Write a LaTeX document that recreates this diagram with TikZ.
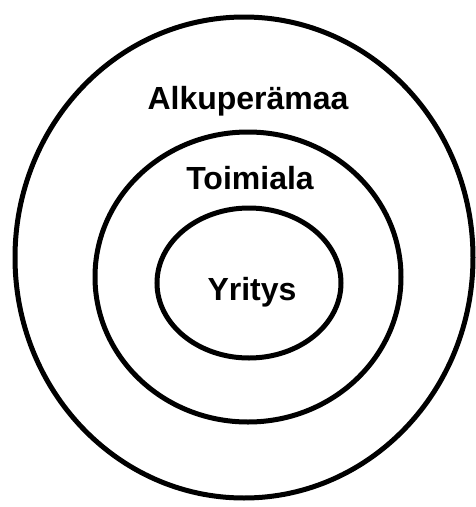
\documentclass[tikz,border=0pt]{standalone}
\usepackage{fontspec}
\setmainfont{Liberation Sans}
\begin{document}
\begin{tikzpicture}[x=1pt,y=-1pt,
  ring/.style={draw=black,line width=5pt},
  lbl/.style={font=\fontsize{32}{36}\selectfont\bfseries,inner sep=0pt}]
\useasboundingbox (0,0) rectangle (476,507);
\draw[ring] (244,257.5) ellipse [x radius=229,y radius=240.5];
\draw[ring] (248,277) ellipse [x radius=153,y radius=145];
\draw[ring] (249,283) ellipse [x radius=92,y radius=75];
\node[lbl,anchor=base] (a) at (248,109) {Alkuperämaa};
\node[lbl,anchor=base] (t) at (250,189) {Toimiala};
\node[lbl,anchor=base] (y) at (252,300) {Yritys};
\end{tikzpicture}
\end{document}
